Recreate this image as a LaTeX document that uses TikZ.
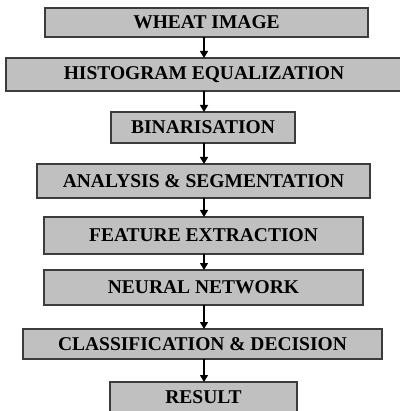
\documentclass[tikz,border=0pt]{standalone}
\usepackage{fontspec}
\setmainfont{Liberation Serif}
\usepackage{tikz}
\usetikzlibrary{arrows.meta,positioning}
\definecolor{boxgray}{RGB}{192, 192, 192}
\definecolor{edgegray}{RGB}{60, 60, 60}
\tikzstyle{stage} = [rectangle, draw=edgegray, line width=1.5pt, fill=boxgray, text=black, text centered, font=\bfseries\fontsize{19.5}{21}\selectfont, inner sep=0pt, outer sep=0pt]
\tikzstyle{tedge}  = [draw, line width=1.3pt, -{Triangle[width=8pt,length=7pt]}]

\begin{document}
\begin{tikzpicture}[x=1pt, y=1pt]

\useasboundingbox (0,0) rectangle (399,-411);

% stages =============================
\node[stage, minimum width=323pt, minimum height=29pt] (wheat) at (206.5,-22.5) {WHEAT IMAGE};
\node[stage, minimum width=396pt, minimum height=33pt, below=21pt of wheat, xshift=-2.5pt] (histeq) {HISTOGRAM EQUALIZATION};
\node[stage, minimum width=184pt, minimum height=31pt, below=21pt of histeq, xshift=-1pt] (binar) {BINARISATION};
\node[stage, minimum width=333pt, minimum height=34pt, below=21pt of binar, xshift=0.5pt] (anaseg) {ANALYSIS \& SEGMENTATION};
\node[stage, minimum width=319pt, minimum height=37pt, below=19pt of anaseg] (featex) {FEATURE EXTRACTION};
\node[stage, minimum width=319pt, minimum height=35pt, below=16pt of featex] (neural) {NEURAL NETWORK};
\node[stage, minimum width=359pt, minimum height=30pt, below=24pt of neural, xshift=-1pt] (classdec) {CLASSIFICATION \& DECISION};
\node[stage, minimum width=187pt, minimum height=31pt, below=23pt of classdec, xshift=1pt] (result) {RESULT};

%edges
\path[tedge] (wheat.south -| 204,0) -- (histeq.north -| 204,0);
\path[tedge] (histeq.south -| 204,0) -- (binar.north -| 204,0);
\path[tedge] (binar.south -| 204,0) -- (anaseg.north -| 204,0);
\path[tedge] (anaseg.south -| 204,0) -- (featex.north -| 204,0);
\path[tedge] (featex.south -| 204,0) -- (neural.north -| 204,0);
\path[tedge] (neural.south -| 204,0) -- (classdec.north -| 204,0);
\path[tedge] (classdec.south -| 204,0) -- (result.north -| 204,0);

\end{tikzpicture}
\end{document}
